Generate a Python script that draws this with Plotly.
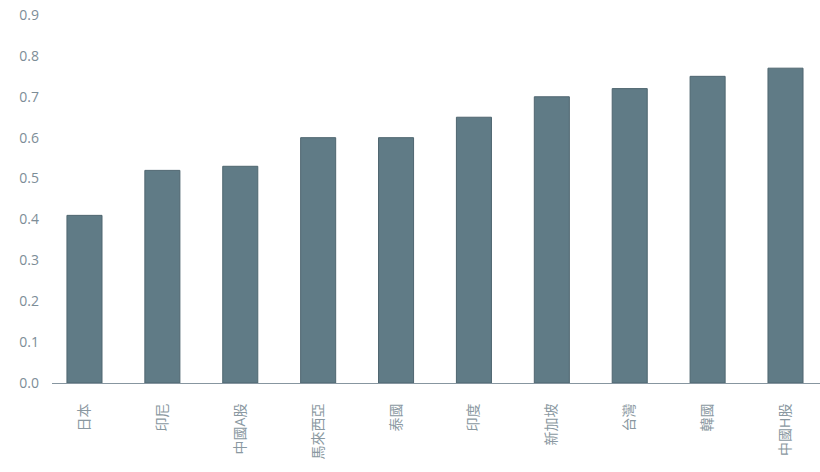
import plotly.graph_objects as go

markets = ["日本", "印尼", "中國A股", "馬來西亞", "泰國", "印度", "新加坡", "台灣", "韓國", "中國H股"]
values = [0.41, 0.52, 0.53, 0.60, 0.60, 0.65, 0.70, 0.72, 0.75, 0.77]

fig = go.Figure(go.Bar(
    x=markets,
    y=values,
    marker=dict(color="#607b86", line=dict(color="#4f6670", width=1)),
))

fig.update_layout(
    width=820, height=472,
    margin=dict(l=52, r=0, t=15, b=89),
    plot_bgcolor="white", paper_bgcolor="white",
    font=dict(family="Open Sans, Noto Sans CJK TC", size=14, color="#7d8d97"),
    showlegend=False,
    bargap=0.55,
)
fig.update_xaxes(
    range=[-0.417, 9.443],
    tickangle=-90, automargin=False,
    showline=True, linecolor="#8796a0", linewidth=1,
    ticks="", ticklabelstandoff=14,
    tickfont=dict(size=14, color="#8a98a1"),
)
fig.update_yaxes(
    range=[0, 0.9], dtick=0.1, tickformat=".1f", automargin=False,
    showgrid=False, zeroline=False,
    ticklabelstandoff=12, ticklabeloverflow="allow",
    tickfont=dict(size=14, color="#7d8d97"),
)

# drop the page's default body margin so the figure sits at the window corner
fig.write_html("out.html", config={"displayModeBar": False},
               post_script="document.body.style.margin='0';")
